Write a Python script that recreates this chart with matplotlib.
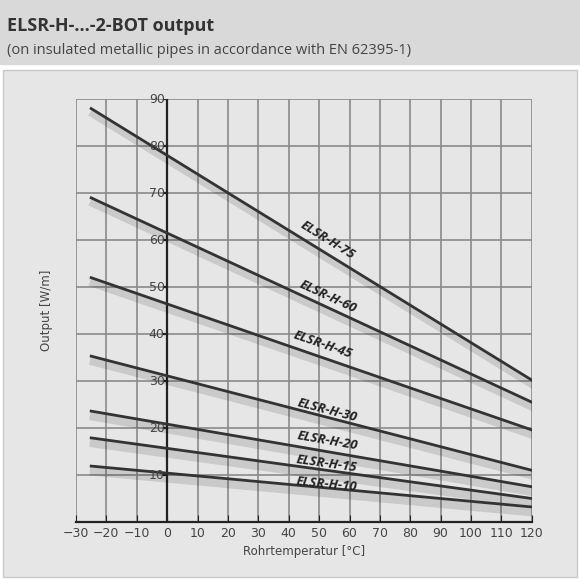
import matplotlib
matplotlib.use("Agg")
import matplotlib.pyplot as plt
import matplotlib.patheffects as pe
from matplotlib.patches import Rectangle

names = ["ELSR-H-75", "ELSR-H-60", "ELSR-H-45", "ELSR-H-30", "ELSR-H-20", "ELSR-H-15", "ELSR-H-10"]
x_vals = [-25, 120]
start_vals = [88, 69, 52, 35.3, 23.6, 17.9, 11.9]
end_vals = [30.2, 25.5, 19.6, 11, 7.5, 5, 3.2]
label_x = [52.9, 52.9, 51.2, 52.6, 52.6, 52.6, 52.6]
label_y = [60, 47.9, 37.7, 23.8, 17.2, 12.3, 8.1]
label_rot = [-31.7, -24.8, -19, -14.5, -9.8, -7.9, -5.3]
x_ticks = list(range(-30, 121, 10))
y_ticks = list(range(10, 91, 10))

fig = plt.figure(figsize=(5.8, 5.8), dpi=100)
fig.patch.set_facecolor("white")
fig.add_artist(Rectangle((0, 0.89), 1, 0.11, transform=fig.transFigure, color="#d9d9d9", zorder=0))
fig.add_artist(Rectangle((0.005, 0.005), 0.99, 0.875, transform=fig.transFigure,
                         facecolor="#e6e6e6", edgecolor="#c8c8c8", zorder=0))
fig.text(0.012, 0.955, "ELSR-H-...-2-BOT output", fontsize=13, fontweight="bold", color="#333333",
         va="center", family="Open Sans")
fig.text(0.012, 0.913, "(on insulated metallic pipes in accordance with EN 62395-1)", fontsize=10.5,
         color="#444444", va="center", family="Open Sans")

ax = fig.add_axes([0.131, 0.1, 0.786, 0.729])
ax.set_facecolor("#e6e6e6")
ax.set_xlim(-30, 120)
ax.set_ylim(0, 90)
for v in x_ticks:
    ax.axvline(v, color="#8a8a8a", lw=1.2, zorder=1)
for v in range(0, 91, 10):
    ax.axhline(v, color="#8a8a8a", lw=1.2, zorder=1)
ax.axvline(0, color="#222222", lw=1.6, zorder=2)

for n, s, e, lx, ly, r in zip(names, start_vals, end_vals, label_x, label_y, label_rot):
    ax.plot(x_vals, [s, e], color="#333333", lw=2, zorder=3,
            path_effects=[pe.SimpleLineShadow(offset=(2, -4), alpha=0.12, shadow_color="k", linewidth=6), pe.Normal()])
    ax.text(lx, ly, n, rotation=r, fontsize=9.5, fontweight="bold", style="italic",
            ha="center", va="center", color="#222222", zorder=4, family="Open Sans")

for sp in ["top", "right", "left"]:
    ax.spines[sp].set_visible(False)
ax.spines["bottom"].set_color("#222222")
ax.spines["bottom"].set_linewidth(1.6)
ax.set_xticks(x_ticks)
ax.set_xticklabels([("−" + str(-v)) if v < 0 else str(v) for v in x_ticks])
ax.tick_params(axis="x", direction="in", length=5, color="#222222", labelsize=9, labelcolor="#444444")
ax.set_yticks([])
for v in y_ticks:
    ax.text(-0.8, v, str(v), ha="right", va="center", fontsize=9, color="#444444", zorder=4)
    ax.plot([-1.2, 0], [v, v], color="#222222", lw=1.6, zorder=2)
ax.set_xlabel("Rohrtemperatur [°C]", fontsize=8.5, color="#444444")
ax.set_ylabel("Output [W/m]", fontsize=8.5, color="#444444")
ax.yaxis.set_label_coords(-0.05, 0.5)
fig.savefig("out.png", dpi=100)
